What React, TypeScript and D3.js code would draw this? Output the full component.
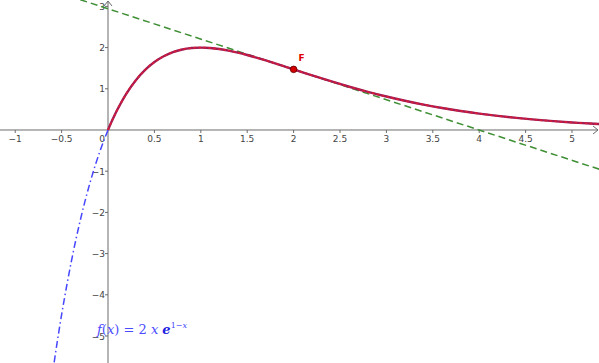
import React from 'react';
import * as d3 from 'd3';

// f(x) = 2x e^(1-x)
const redX = [0, 0.05, 0.1, 0.2, 0.3, 0.4, 0.5, 0.6, 0.7, 0.8, 0.9, 1.0, 1.1, 1.2, 1.3, 1.4, 1.5, 1.6, 1.7, 1.8, 1.9, 2.0, 2.2, 2.4, 2.6, 2.8, 3.0, 3.2, 3.4, 3.6, 3.8, 4.0, 4.2, 4.4, 4.6, 4.8, 5.0, 5.2, 5.3];
const redY = [0, 0.2586, 0.4919, 0.8902, 1.2083, 1.4577, 1.6487, 1.7902, 1.8898, 1.9542, 1.9893, 2.0, 1.9906, 1.9649, 1.9261, 1.8769, 1.8196, 1.7562, 1.6883, 1.6175, 1.545, 1.4715, 1.3253, 1.1837, 1.0498, 0.9257, 0.812, 0.7091, 0.6168, 0.5348, 0.4622, 0.3983, 0.3424, 0.2937, 0.2514, 0.2148, 0.1832, 0.156, 0.1439];

const blueX = [0, -0.05, -0.1, -0.15, -0.2, -0.25, -0.3, -0.35, -0.4, -0.45, -0.5, -0.55, -0.6];
const blueY = [0, -0.2858, -0.6008, -0.9465, -1.328, -1.7452, -2.2016, -2.7008, -3.2442, -3.8408, -4.4817, -5.1827, -5.9436];

const tangentX = [-1.2, 5.3];
const tangentY = [3.826, -0.957];

const pointF = { x: 2, y: 1.4715, label: 'F' };

const xTicks = [-1, -0.5, 0.5, 1, 1.5, 2, 2.5, 3, 3.5, 4, 4.5, 5];
const yTicks = [-5, -4, -3, -2, -1, 1, 2, 3];

const W = 599;
const H = 363;

export default function App() {
  const x = d3.scaleLinear().domain([-1.164, 5.291]).range([0, W]);
  const y = d3.scaleLinear().domain([-5.655, 3.155]).range([H, 0]);

  const line = d3
    .line<[number, number]>()
    .x((d) => x(d[0]))
    .y((d) => y(d[1]))
    .curve(d3.curveCatmullRom);

  const red = redX.map((v, i) => [v, redY[i]] as [number, number]);
  const blue = blueX.map((v, i) => [v, blueY[i]] as [number, number]);
  const tangent = tangentX.map((v, i) => [v, tangentY[i]] as [number, number]);

  const x0 = x(0);
  const y0 = y(0);
  const axisColor = '#6b6b6b';
  const font = '"DejaVu Sans", Arial, sans-serif';

  return (
    <div style={{ position: 'fixed', left: 0, top: 0 }}>
      <svg width={W} height={H} style={{ display: 'block', background: '#fff' }}>
        <defs>
          <clipPath id="plot">
            <rect x={0} y={0} width={W} height={H} />
          </clipPath>
        </defs>

        {/* axes */}
        <line x1={0} x2={W - 1} y1={y0} y2={y0} stroke={axisColor} strokeWidth={1} />
        <path d={`M${W - 6},${y0 - 4} L${W - 1},${y0} L${W - 6},${y0 + 4}`} fill="none" stroke={axisColor} />
        <line x1={x0} x2={x0} y1={1} y2={H} stroke={axisColor} strokeWidth={1} />
        <path d={`M${x0 - 4},${6} L${x0},${1} L${x0 + 4},${6}`} fill="none" stroke={axisColor} />

        {xTicks.map((t) => (
          <g key={'x' + t}>
            <line x1={x(t)} x2={x(t)} y1={y0} y2={y0 + 3} stroke={axisColor} />
            <text x={x(t)} y={y0 + 12} textAnchor="middle" fontSize={9} fontFamily={font} fill="#444">
              {t < 0 ? '\u2212' + Math.abs(t) : String(t)}
            </text>
          </g>
        ))}
        {yTicks.map((t) => (
          <g key={'y' + t}>
            <line x1={x0 - 3} x2={x0} y1={y(t)} y2={y(t)} stroke={axisColor} />
            <text x={x0 - 3} y={y(t) + 3.5} textAnchor="end" fontSize={9} fontFamily={font} fill="#444">
              {t < 0 ? '\u2212' + Math.abs(t) : String(t)}
            </text>
          </g>
        ))}
        <text x={x0 - 3} y={y0 + 12} textAnchor="end" fontSize={9} fontFamily={font} fill="#444">
          0
        </text>

        <g clipPath="url(#plot)">
          <path d={line(tangent) || ''} fill="none" stroke="#3f8f35" strokeWidth={1.5} strokeDasharray="7,4" />
          <path
            d={line(blue) || ''}
            fill="none"
            stroke="#4646ff"
            strokeWidth={1.5}
            strokeDasharray="7,3,1.5,3"
          />
          <path d={line(red) || ''} fill="none" stroke="#9c1c55" strokeWidth={2.4} />
          <path d={line(red) || ''} fill="none" stroke="#d41c3c" strokeWidth={1.8} strokeDasharray="3,2" />
        </g>

        <circle cx={x(pointF.x)} cy={y(pointF.y)} r={3.3} fill="#d40000" stroke="#5a0000" strokeWidth={0.8} />
        <text x={x(pointF.x) + 5} y={y(pointF.y) - 8} fontSize={9} fontFamily={font} fill="#e00000" fontWeight="bold">
          {pointF.label}
        </text>

        <text x={97} y={334} fontSize={13} fontFamily='"DejaVu Serif", "Liberation Serif", serif' fill="#4b4bff">
          <tspan fontStyle="italic">f</tspan>
          <tspan>(</tspan>
          <tspan fontStyle="italic">x</tspan>
          <tspan>) = 2 </tspan>
          <tspan fontStyle="italic">x</tspan>
          <tspan> </tspan>
          <tspan fontStyle="italic" fontWeight="bold" fill="#2020e0">e</tspan>
          <tspan dy={-6} fontSize={8}>1−</tspan>
          <tspan fontSize={8} fontStyle="italic">x</tspan>
        </text>
      </svg>
    </div>
  );
}
